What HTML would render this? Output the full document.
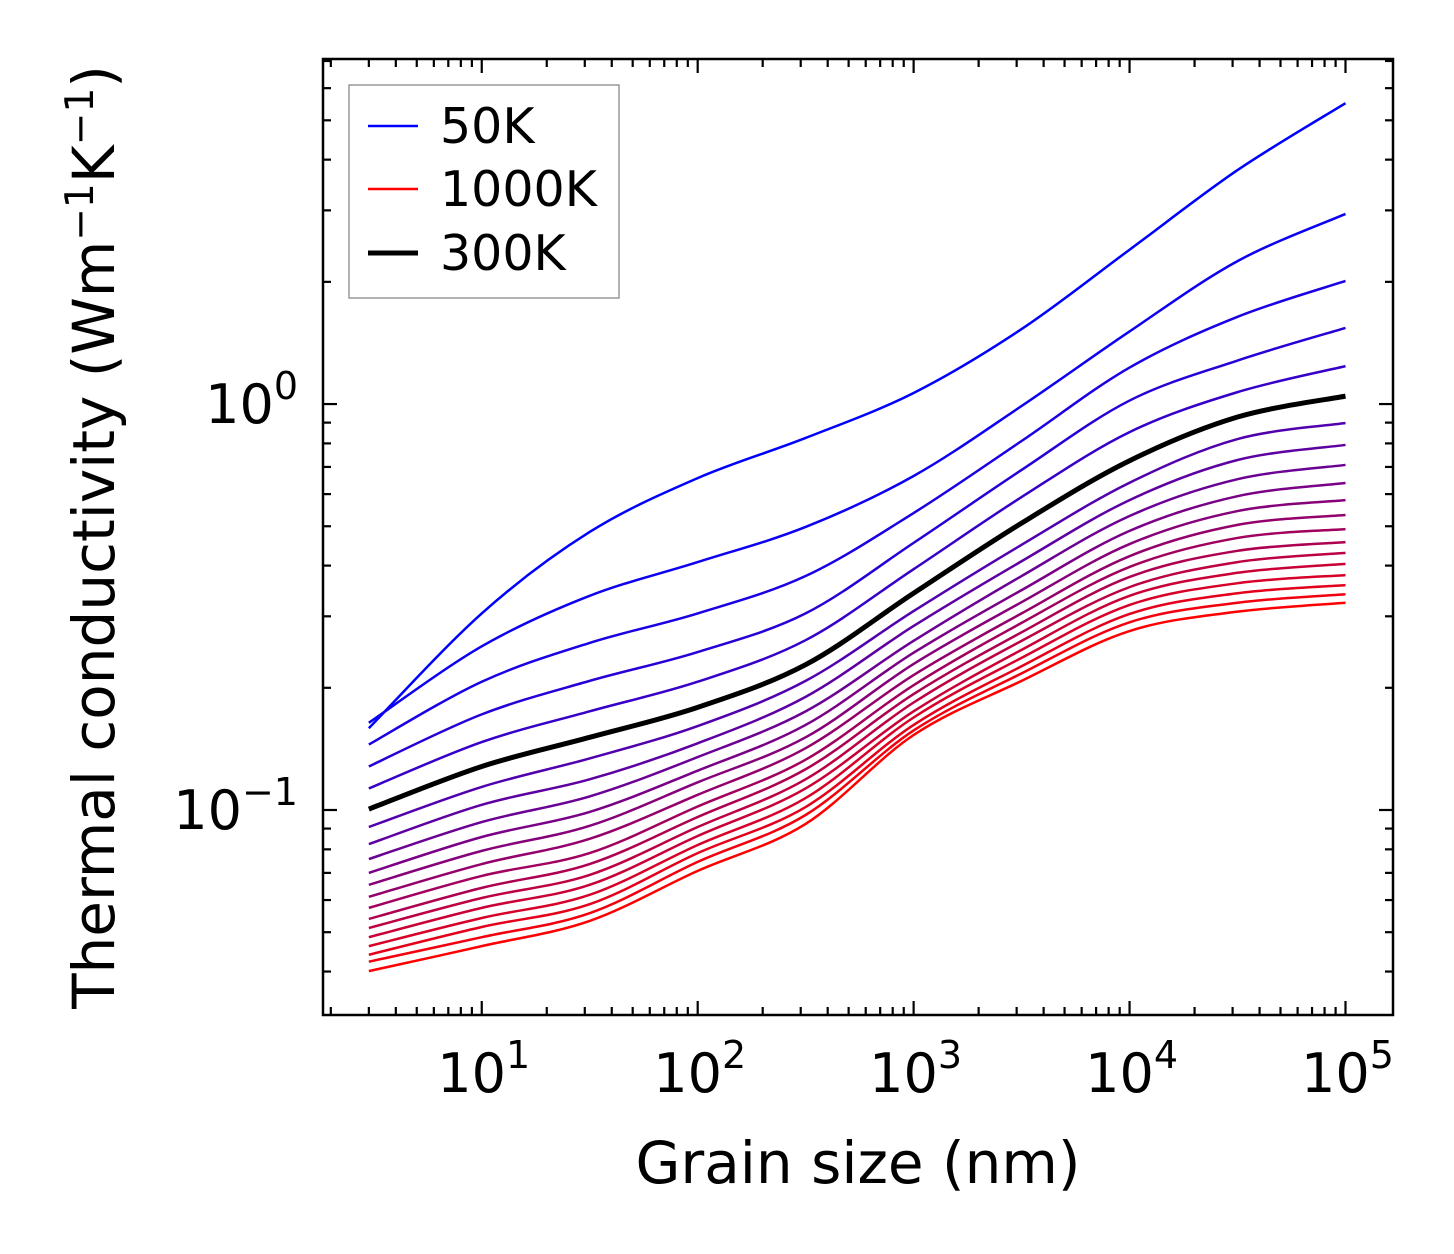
<!DOCTYPE html>
<html><head><meta charset="utf-8">
<style>
html,body{margin:0;padding:0;background:#fff;}
svg{display:block;font-family:"DejaVu Sans","Liberation Sans",sans-serif;}
</style></head>
<body>
<svg id="chart" width="1454" height="1254" viewBox="0 0 1454 1254" xmlns="http://www.w3.org/2000/svg">
<rect width="1454" height="1254" fill="#fff"/>
<g id="curves"></g>
<g id="ticks"></g>
<rect x="323" y="59" width="1070" height="956" fill="none" stroke="#000" stroke-width="2.5"/>
<g id="xlabels" font-size="54" text-anchor="middle"></g>
<g id="ylabels" font-size="54" text-anchor="end"></g>
<text x="858" y="1183" font-size="58" text-anchor="middle">Grain size (nm)</text>
<text transform="translate(114,537) rotate(-90)" font-size="58" text-anchor="middle">Thermal conductivity (Wm<tspan font-size="39" dy="-21">−1</tspan><tspan dy="21">K</tspan><tspan font-size="39" dy="-21">−1</tspan><tspan dy="21">)</tspan></text>
<g>
<rect x="349" y="85" width="270" height="213" fill="#fff" stroke="#999" stroke-width="1.5"/>
<line x1="368" y1="126" x2="418" y2="126" stroke="rgb(0,0,255)" stroke-width="2.4"/>
<text x="440" y="143" font-size="49">50K</text>
<line x1="368" y1="189" x2="418" y2="189" stroke="rgb(255,0,0)" stroke-width="2.4"/>
<text x="440" y="206" font-size="49">1000K</text>
<line x1="368" y1="253" x2="418" y2="253" stroke="#000" stroke-width="5"/>
<text x="440" y="270" font-size="49">300K</text>
</g>
</svg>
<script>
// grain sizes (nm)
const grainSizes = [3, 10, 31.6, 100, 316, 1000, 3162, 10000, 31623, 100000];
const temperatures = [50,100,150,200,250,300,350,400,450,500,550,600,650,700,750,800,850,900,950,1000];
const k50 = [0.159,0.305,0.484,0.657,0.825,1.065,1.53,2.40,3.77,5.51];
const k100 = [0.164,0.253,0.337,0.408,0.498,0.665,0.989,1.51,2.25,2.94];
const k150 = [0.145,0.207,0.258,0.305,0.377,0.539,0.811,1.23,1.64,2.01];
const k200 = [0.128,0.172,0.208,0.245,0.305,0.455,0.688,1.02,1.28,1.54];
const k250 = [0.113,0.147,0.175,0.207,0.262,0.392,0.590,0.853,1.07,1.24];
const k300 = [0.1005,0.128,0.151,0.179,0.228,0.342,0.509,0.725,0.929,1.046];
const k350 = [0.0908,0.114,0.134,0.161,0.208,0.309,0.450,0.640,0.820,0.898];
const k400 = [0.0824,0.103,0.119,0.146,0.190,0.284,0.410,0.580,0.728,0.793];
const k450 = [0.0757,0.0934,0.108,0.135,0.175,0.261,0.377,0.530,0.653,0.708];
const k500 = [0.070,0.0858,0.0989,0.125,0.162,0.244,0.348,0.487,0.593,0.639];
const k550 = [0.0654,0.0793,0.0914,0.117,0.151,0.229,0.325,0.452,0.545,0.580];
const k600 = [0.0611,0.0736,0.0849,0.109,0.142,0.215,0.305,0.422,0.504,0.533];
const k650 = [0.0574,0.0688,0.0783,0.102,0.133,0.203,0.289,0.397,0.468,0.492];
const k700 = [0.0539,0.0643,0.0736,0.0961,0.126,0.193,0.274,0.375,0.435,0.457];
const k750 = [0.0512,0.0607,0.0692,0.0908,0.119,0.184,0.261,0.354,0.408,0.430];
const k800 = [0.0486,0.0574,0.0654,0.0863,0.113,0.175,0.248,0.337,0.384,0.404];
const k850 = [0.0462,0.0542,0.0618,0.0820,0.107,0.169,0.237,0.320,0.362,0.379];
const k900 = [0.0440,0.0515,0.0586,0.0783,0.1017,0.162,0.226,0.304,0.342,0.358];
const k950 = [0.0423,0.0486,0.0557,0.0745,0.0972,0.157,0.217,0.290,0.324,0.340];
const k1000 = [0.0401,0.0462,0.0533,0.0708,0.0924,0.153,0.208,0.276,0.308,0.324];
const xTickLabels = ["1","2","3","4","5"];
const yTickLabels = ["0","−1"];

const series = [k50,k100,k150,k200,k250,k300,k350,k400,k450,k500,k550,k600,k650,k700,k750,k800,k850,k900,k950,k1000];
const PL=323, PR=1393, PT=59, PB=1015;
const xLogMin = Math.log10(1.84), xLogMax = 5.22;
const yLogMin = -1.505, yLogMax = 0.85;
function xScale(v){return PL + (Math.log10(v)-xLogMin)/(xLogMax-xLogMin)*(PR-PL);}
function yScale(v){return PB - (Math.log10(v)-yLogMin)/(yLogMax-yLogMin)*(PB-PT);}
const NS='http://www.w3.org/2000/svg';

function smoothPath(pts){
  let d = 'M'+pts[0][0].toFixed(2)+','+pts[0][1].toFixed(2);
  for(let i=0;i<pts.length-1;i++){
    const p0=pts[Math.max(0,i-1)], p1=pts[i], p2=pts[i+1], p3=pts[Math.min(pts.length-1,i+2)];
    const c1x=p1[0]+(p2[0]-p0[0])/6, c1y=p1[1]+(p2[1]-p0[1])/6;
    const c2x=p2[0]-(p3[0]-p1[0])/6, c2y=p2[1]-(p3[1]-p1[1])/6;
    d+=' C'+c1x.toFixed(2)+','+c1y.toFixed(2)+' '+c2x.toFixed(2)+','+c2y.toFixed(2)+' '+p2[0].toFixed(2)+','+p2[1].toFixed(2);
  }
  return d;
}

const cg = document.getElementById('curves');
const order = [];
for(let i=0;i<series.length;i++){ if(i!==5) order.push(i); }
order.push(5);
order.forEach(i=>{
  const pts = grainSizes.map((g,j)=>[xScale(g), yScale(series[i][j])]);
  const t = i/(series.length-1);
  const col = i===5 ? '#000' : 'rgb('+Math.round(255*t)+',0,'+Math.round(255*(1-t))+')';
  const p = document.createElementNS(NS,'path');
  p.setAttribute('d', smoothPath(pts));
  p.setAttribute('fill','none');
  p.setAttribute('stroke', col);
  p.setAttribute('stroke-width', i===5 ? '5' : '2.5');
  
  
  cg.appendChild(p);
});

const tg = document.getElementById('ticks');
function tick(x1,y1,x2,y2,w){
  const l=document.createElementNS(NS,'line');
  l.setAttribute('x1',x1);l.setAttribute('y1',y1);l.setAttribute('x2',x2);l.setAttribute('y2',y2);
  l.setAttribute('stroke','#000');l.setAttribute('stroke-width',w);
  
  
  tg.appendChild(l);
}
for(let e=0;e<=5;e++){
  for(let m=1;m<=9;m++){
    const v=m*Math.pow(10,e);
    const x=xScale(v);
    if(x<PL+1||x>PR-1) continue;
    const len = m===1?14:8;
    tick(x,PB,x,PB-len,2.2); tick(x,PT,x,PT+len,2.2);
  }
}
for(let e=-2;e<=0;e++){
  for(let m=1;m<=9;m++){
    const v=m*Math.pow(10,e);
    const y=yScale(v);
    if(y<PT+1||y>PB-1) continue;
    const len = m===1?14:8;
    tick(PL,y,PL+len,y,2.2); tick(PR,y,PR-len,y,2.2);
  }
}
const xl=document.getElementById('xlabels');
xTickLabels.forEach((lab,i)=>{
  const x=xScale(Math.pow(10,i+1));
  const t=document.createElementNS(NS,'text');
  t.setAttribute('x',x+2); t.setAttribute('y',1092);
  
  
  t.innerHTML='10<tspan font-size="38" dy="-24">'+lab+'</tspan>';
  xl.appendChild(t);
});
const yl=document.getElementById('ylabels');
yTickLabels.forEach((lab,i)=>{
  const y=yScale(Math.pow(10,-i));
  const t=document.createElementNS(NS,'text');
  t.setAttribute('x',298); t.setAttribute('y',y+19);
  
  
  t.innerHTML='10<tspan font-size="38" dy="-24">'+lab+'</tspan>';
  yl.appendChild(t);
});
</script>
</body></html>
